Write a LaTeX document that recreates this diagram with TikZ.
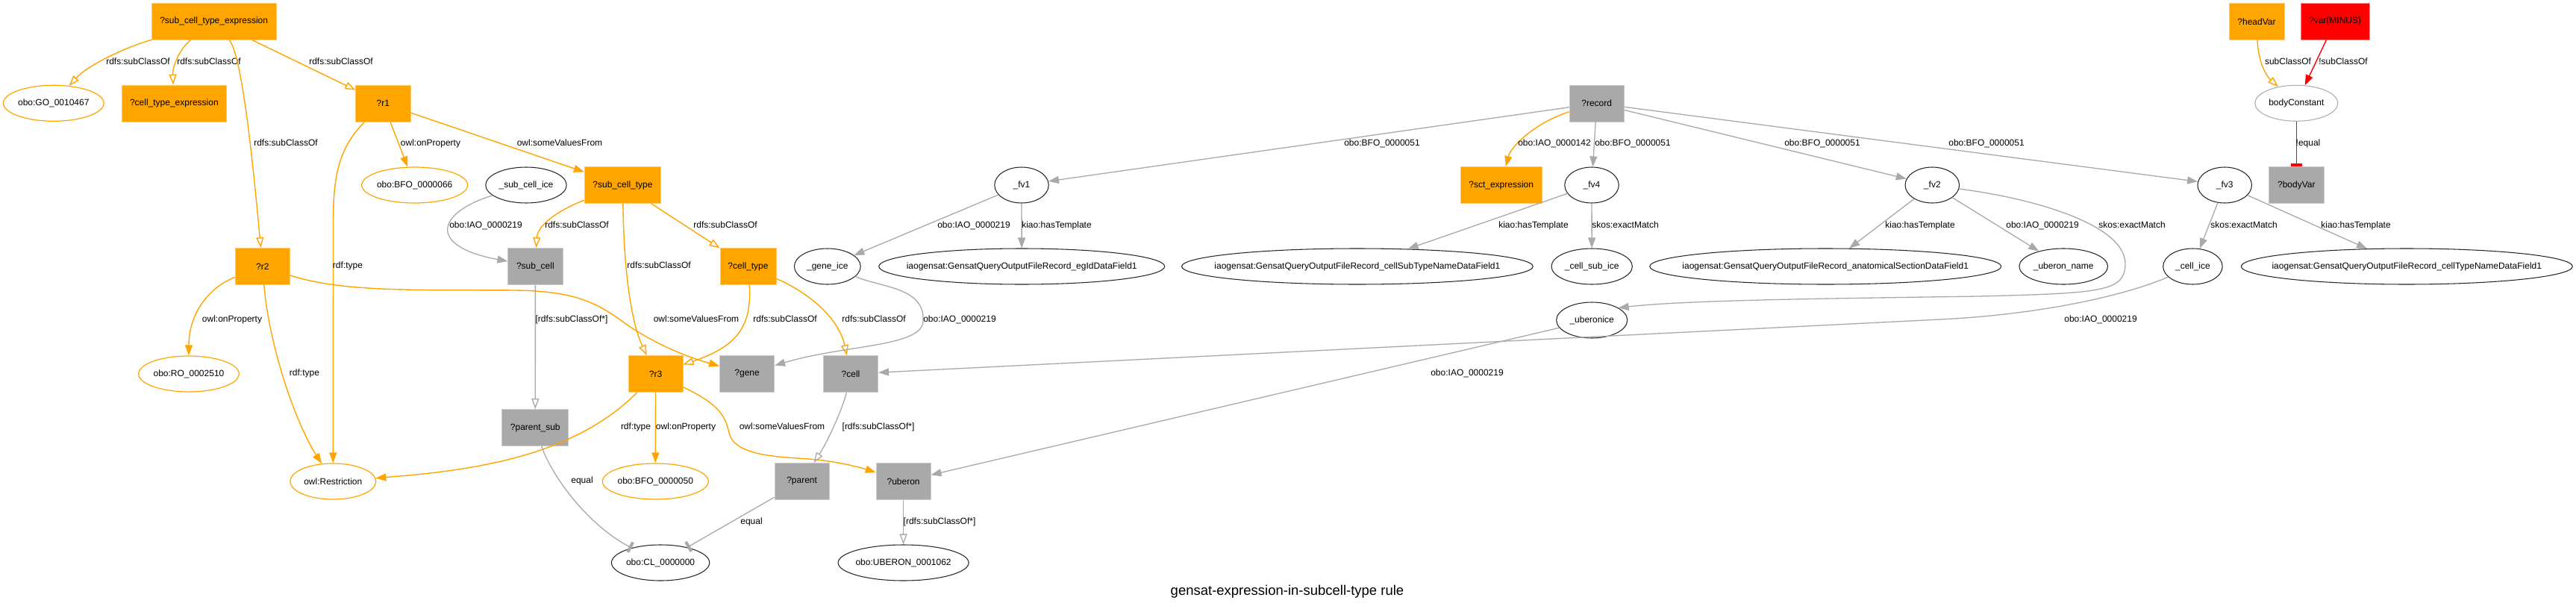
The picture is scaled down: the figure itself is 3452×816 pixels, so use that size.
\documentclass[tikz,border=0pt]{standalone}
\usepackage{fontspec}
\setmainfont{Liberation Sans}
\usetikzlibrary{arrows.meta,shapes.geometric}
\definecolor{gorange}{HTML}{FFA500}
\definecolor{ggray}{HTML}{A9A9A9}
\newcommand{\ztxt}[1]{\makebox[0pt]{#1}}
\begin{document}
\begin{tikzpicture}[x=1pt,y=-1pt,
  base/.style={font=\fontsize{12}{14}\selectfont, text=black},
  obox/.style={base, rectangle, fill=gorange, draw=gorange!60!white, line width=0.8pt, minimum height=49pt, inner xsep=2pt, inner ysep=0pt},
  gbox/.style={obox, fill=ggray, draw=ggray!60!white},
  rbox/.style={obox, fill=red, draw=red!50!white},
  oell/.style={base, ellipse, draw=gorange, line width=1.2pt, inner sep=0pt, minimum height=48pt},
  bell/.style={base, ellipse, draw=black!85, line width=1.05pt, inner sep=0pt, minimum height=48pt},
  gell/.style={base, ellipse, draw=ggray, line width=1pt, inner sep=0pt, minimum height=48pt},
  lbl/.style={font=\fontsize{12}{14}\selectfont, text=black, inner sep=0pt, text height=8.5pt, text depth=2.5pt},
  oedge/.style={draw=gorange, line width=1.4pt},
  gedge/.style={draw=ggray, line width=1.3pt},
  redge/.style={draw=red, line width=1.4pt},
  filltip/.style={-{Triangle[length=14pt,width=10pt]}},
  opentip/.style={-{Triangle[open,length=14pt,width=10pt]}},
  teetip/.style={-{Rectangle[length=4pt,width=15pt]}}
]
\fill[white] (0,0) rectangle (3452,816);
\useasboundingbox (0,0) rectangle (3452,816);

% nodes
\node[obox, minimum width=166.5pt] (sctex) at (286.7,28.8) {?sub\_cell\_type\_expression};
\node[oell, minimum width=134.7pt] (go) at (71.8,138.3) {\ztxt{obo:GO\_0010467}};
\node[obox, minimum width=140.6pt] (ctex) at (233.4,138.5) {?cell\_type\_expression};
\node[obox, minimum width=73.2pt] (r1) at (513.4,138.5) {?r1};
\node[oell, minimum width=142pt] (bfo66) at (555.7,248) {\ztxt{obo:BFO\_0000066}};
\node[bell, minimum width=108.4pt] (subice) at (705,248) {\ztxt{\_sub\_cell\_ice}};
\node[obox, minimum width=102.4pt] (sct) at (834.5,248) {?sub\_cell\_type};
\node[obox, minimum width=73.2pt] (r2) at (351.8,357) {?r2};
\node[gbox, minimum width=73.2pt] (subcell) at (717.4,357) {?sub\_cell};
\node[obox, minimum width=75pt] (celltype) at (1002.5,357) {?cell\_type};
\node[bell, minimum width=88.8pt] (geneice) at (1108.8,357) {\ztxt{\_gene\_ice}};
\node[bell, minimum width=72.5pt] (fv1) at (1369,248) {\ztxt{\_fv1}};
\node[bell, minimum width=383pt] (eg) at (1369.2,357) {\ztxt{iaogensat:GensatQueryOutputFileRecord\_egIdDataField1}};
\node[gbox, minimum width=73.2pt] (record) at (2139.7,138.5) {?record};
\node[obox, minimum width=108.7pt] (sctexp) at (2011.7,248) {?sct\_expression};
\node[bell, minimum width=72.5pt] (fv4) at (2133,248) {\ztxt{\_fv4}};
\node[bell, minimum width=470.7pt] (cst) at (1818.9,357) {\ztxt{iaogensat:GensatQueryOutputFileRecord\_cellSubTypeNameDataField1}};
\node[bell, minimum width=108.4pt] (cellsubice) at (2133.2,357) {\ztxt{\_cell\_sub\_ice}};
\node[bell, minimum width=95pt] (uberonice) at (2133.2,429) {\ztxt{\_uberonice}};
\node[bell, minimum width=72.5pt] (fv2) at (2589.3,248) {\ztxt{\_fv2}};
\node[bell, minimum width=471pt] (anat) at (2446.2,357) {\ztxt{iaogensat:GensatQueryOutputFileRecord\_anatomicalSectionDataField1}};
\node[bell, minimum width=118.7pt] (ubname) at (2765.2,357) {\ztxt{\_uberon\_name}};
\node[obox, minimum width=74pt] (headvar) at (3024,28.8) {?headVar};
\node[rbox, minimum width=91.7pt] (varminus) at (3129.1,28.8) {?var\{MINUS\}};
\node[gell, minimum width=111pt] (bodyc) at (3077.3,138.3) {\ztxt{bodyConstant}};
\node[gbox, minimum width=73.2pt] (bodyvar) at (3077.3,248) {?bodyVar};
\node[bell, minimum width=72.5pt] (fv3) at (2981.2,248) {\ztxt{\_fv3}};
\node[bell, minimum width=79.5pt] (cellice) at (2938.4,357) {\ztxt{\_cell\_ice}};
\node[bell, minimum width=444pt] (ctn) at (3225.3,357) {\ztxt{iaogensat:GensatQueryOutputFileRecord\_cellTypeNameDataField1}};
\node[oell, minimum width=134.6pt] (ro) at (253,501) {\ztxt{obo:RO\_0002510}};
\node[oell, minimum width=115pt] (restr) at (446.3,645) {\ztxt{owl:Restriction}};
\node[gbox, minimum width=89pt] (parentsub) at (717.3,573) {?parent\_sub};
\node[obox, minimum width=73pt] (r3) at (878.5,501) {?r3};
\node[gbox, minimum width=73.2pt] (gene) at (1001.1,501) {?gene};
\node[gbox, minimum width=73.4pt] (cell) at (1140,501) {?cell};
\node[oell, minimum width=142pt] (bfo50) at (878.3,645) {\ztxt{obo:BFO\_0000050}};
\node[gbox, minimum width=73pt] (parent) at (1074.6,645) {?parent};
\node[bell, minimum width=131.3pt] (cl) at (885.1,754) {\ztxt{obo:CL\_0000000}};
\node[gbox, minimum width=73pt] (uberon) at (1210.6,645) {?uberon};
\node[bell, minimum width=175pt] (ub1062) at (1210.6,754) {\ztxt{obo:UBERON\_0001062}};
\node[font=\fontsize{18.5}{22}\selectfont, inner sep=0pt] (title) at (1725,793) {gensat-expression-in-subcell-type rule};

% orange edges
\draw[oedge, opentip] (sctex) .. controls (160,66) and (115,90) .. (go) node[lbl] (l1) at (185,83) {rdfs:subClassOf};
\draw[oedge, opentip] (sctex) .. controls (240,66) and (231,90) .. (ctex) node[lbl] (l2) at (280,83) {rdfs:subClassOf};
\draw[oedge, opentip] (sctex) .. controls (325,75) and (340,230) .. (r2) node[lbl] (l3) at (383,192) {rdfs:subClassOf};
\draw[oedge, opentip] (sctex) -- (r1) node[lbl] (l4) at (457,83) {rdfs:subClassOf};
\draw[oedge, filltip] (r1) -- (bfo66) node[lbl] (l5) at (577,192) {owl:onProperty};
\draw[oedge, filltip] (r1) -- (sct) node[lbl] (l6) at (750,192) {owl:someValuesFrom};
\draw[oedge, filltip] (r1) .. controls (452,200) and (446.5,240) .. (446.5,300) -- (restr) node[lbl] (l7) at (466,356) {rdf:type};
\draw[oedge, filltip] (r2) .. controls (280,385) and (253,420) .. (ro) node[lbl] (l8) at (311,428) {owl:onProperty};
\draw[oedge, filltip] (r2) .. controls (360,460) and (395,565) .. (restr) node[lbl] (l9) at (408,500) {rdf:type};
\draw[oedge, filltip] (r2) .. controls (460,392) and (560,388) .. (690,389) .. controls (770,390) and (800,405) .. (840,435) .. controls (880,462) and (920,478) .. (gene) node[lbl] (l10) at (933,428) {owl:someValuesFrom};
\draw[oedge, opentip] (sct) .. controls (740,285) and (720,305) .. (subcell) node[lbl] (l11) at (773,302) {rdfs:subClassOf};
\draw[oedge, opentip] (sct) .. controls (836,360) and (845,430) .. (r3) node[lbl] (l12) at (883,356) {rdfs:subClassOf};
\draw[oedge, opentip] (sct) -- (celltype) node[lbl] (l13) at (972,302) {rdfs:subClassOf};
\draw[oedge, opentip] (celltype) .. controls (1008,440) and (985,465) .. (r3) node[lbl] (l14) at (1052,428) {rdfs:subClassOf};
\draw[oedge, opentip] (celltype) .. controls (1090,395) and (1125,430) .. (cell) node[lbl] (l15) at (1171,428) {rdfs:subClassOf};
\draw[oedge, filltip] (r3) .. controls (770,610) and (640,630) .. (restr) node[lbl] (l16) at (852,572) {rdf:type};
\draw[oedge, filltip] (r3) -- (bfo50) node[lbl] (l17) at (919,572) {owl:onProperty};
\draw[oedge, filltip] (r3) .. controls (960,540) and (972,555) .. (977,580) .. controls (985,615) and (1060,612) .. (1095,616) .. controls (1130,620) and (1155,627) .. (uberon) node[lbl] (l18) at (1048,572) {owl:someValuesFrom};
\draw[oedge, filltip] (record) .. controls (2060,163) and (2025,195) .. (sctexp) node[lbl] (l19) at (2083,192) {obo:IAO\_0000142};
\draw[oedge, opentip] (headvar) .. controls (3026,80) and (3035,100) .. (bodyc) node[lbl] (l20) at (3066,83) {subClassOf};

% red edges
\draw[redge, filltip] (varminus) -- (bodyc) node[lbl] (l21) at (3140,83) {!subClassOf};
\draw[redge, teetip] (bodyc) -- (bodyvar) node[lbl] (l22) at (3093,192) {!equal};

% gray edges
\draw[gedge, filltip] (record) -- (fv1) node[lbl] (l23) at (1852,192) {obo:BFO\_0000051};
\draw[gedge, filltip] (record) -- (fv4) node[lbl] (l24) at (2188,192) {obo:BFO\_0000051};
\draw[gedge, filltip] (record) -- (fv2) node[lbl] (l25) at (2442,192) {obo:BFO\_0000051};
\draw[gedge, filltip] (record) -- (fv3) node[lbl] (l26) at (2662,192) {obo:BFO\_0000051};
\draw[gedge, filltip] (fv1) -- (geneice) node[lbl] (l27) at (1305,302) {obo:IAO\_0000219};
\draw[gedge, filltip] (fv1) -- (eg) node[lbl] (l28) at (1416,302) {kiao:hasTemplate};
\draw[gedge, filltip] (fv4) -- (cst) node[lbl] (l29) at (2055,302) {kiao:hasTemplate};
\draw[gedge, filltip] (fv4) -- (cellsubice) node[lbl] (l30) at (2178,302) {skos:exactMatch};
\draw[gedge, filltip] (fv2) -- (anat) node[lbl] (l31) at (2573,302) {kiao:hasTemplate};
\draw[gedge, filltip] (fv2) -- (ubname) node[lbl] (l32) at (2737,302) {obo:IAO\_0000219};
\draw[gedge, filltip] (fv2.-8) .. controls (2720,265) and (2850,300) .. (2848,355) .. controls (2846,390) and (2820,393) .. (2650,397) .. controls (2450,400) and (2260,402) .. (uberonice.25) node[lbl] (l33) at (2857,302) {skos:exactMatch};
\draw[gedge, filltip] (fv3) -- (cellice) node[lbl] (l34) at (3007,302) {skos:exactMatch};
\draw[gedge, filltip] (fv3) -- (ctn) node[lbl] (l35) at (3157,302) {kiao:hasTemplate};
\draw[gedge, filltip] (cellice) .. controls (2850,395) and (2740,421) .. (2600,428) -- (cell) node[lbl] (l36) at (2815,428) {obo:IAO\_0000219};
\draw[gedge, filltip] (uberonice) -- (uberon) node[lbl] (l37) at (1966,500) {obo:IAO\_0000219};
\draw[gedge, filltip] (geneice.-20) .. controls (1180,385) and (1240,385) .. (1237,430) .. controls (1237,465) and (1130,462) .. (gene) node[lbl] (l38) at (1286,428) {obo:IAO\_0000219};
\draw[gedge, filltip] (subice) .. controls (585,285) and (572,330) .. (subcell) node[lbl] (l39) at (651,302) {obo:IAO\_0000219};
\draw[gedge, opentip] (subcell) -- (parentsub) node[lbl] (l40) at (766,428) {[rdfs:subClassOf*]};
\draw[gedge, opentip] (cell) .. controls (1130,545) and (1110,590) .. (parent) node[lbl] (l41) at (1177,572) {[rdfs:subClassOf*]};
\draw[gedge, teetip] (parentsub) .. controls (740,640) and (790,705) .. (cl) node[lbl] (l42) at (780,644) {equal};
\draw[gedge, teetip] (parent) -- (cl) node[lbl] (l43) at (1007,699) {equal};
\draw[gedge, opentip] (uberon) -- (ub1062) node[lbl] (l44) at (1259,699) {[rdfs:subClassOf*]};
\end{tikzpicture}
\end{document}
